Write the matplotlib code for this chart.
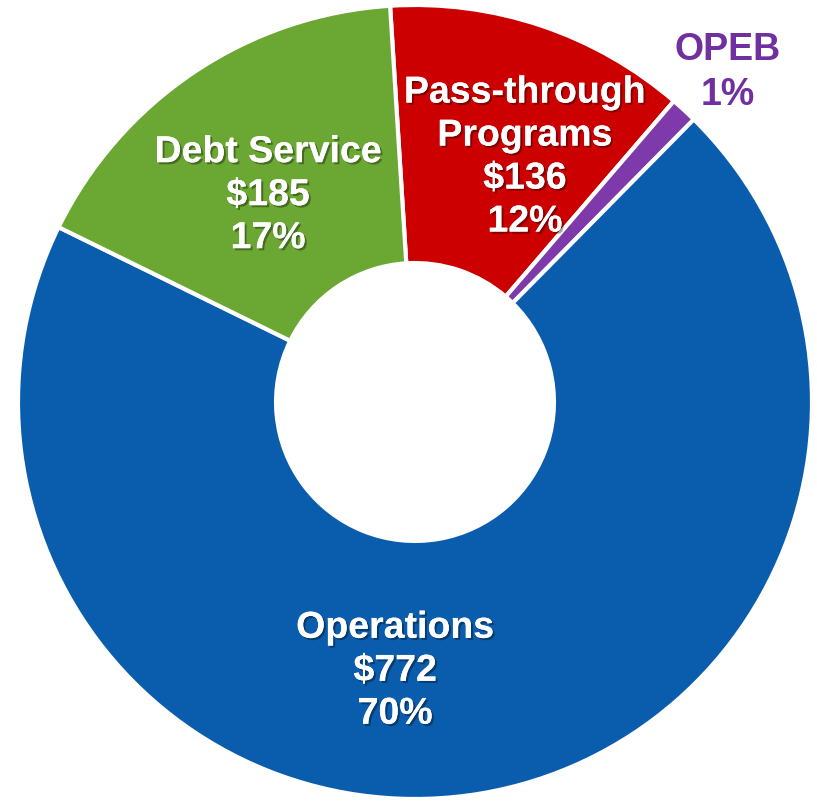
import matplotlib.pyplot as plt
import matplotlib.patheffects as pe

plt.rcParams['font.family'] = ['Liberation Sans', 'DejaVu Sans']

# slices in clockwise order starting at the top
names = ['Pass-through\nPrograms', 'OPEB', 'Operations', 'Debt Service']
values = [136, 12, 772, 185]
pcts = ['12%', '1%', '70%', '17%']
colors = ['#CC0000', '#7E3AAA', '#0A5CAD', '#6BA733']

fig = plt.figure(figsize=(8.17, 8.03), dpi=100)
ax = fig.add_axes([0, 0, 1, 1])

ax.pie(values, colors=colors, startangle=93.6, counterclock=False,
       radius=1.0, wedgeprops=dict(width=0.65, edgecolor='white', linewidth=3))

shadow = [pe.withSimplePatchShadow(offset=(1.5, -1.5), shadow_rgbFace='black', alpha=0.35),
          pe.Normal()]

# label positions in data units (pie radius = 1)
label_pos = [(0.277, 0.617), (0.788, 0.832), (-0.050, -0.677), (-0.370, 0.521)]
for i in range(len(names)):
    if names[i] == 'OPEB':
        txt = names[i] + '\n' + pcts[i]
        ax.text(label_pos[i][0], label_pos[i][1], txt, ha='center', va='center',
                fontsize=27, fontweight='bold', color='#7030A0', linespacing=1.3)
    else:
        txt = names[i] + '\n$' + str(values[i]) + '\n' + pcts[i]
        ax.text(label_pos[i][0], label_pos[i][1], txt, ha='center', va='center',
                fontsize=27, fontweight='bold', color='white', linespacing=1.25,
                path_effects=shadow)

ax.set_xlim(-415 / 397, 402 / 397)
ax.set_ylim(-400 / 397, 403 / 397)
ax.set_aspect('equal')
ax.axis('off')

plt.savefig('out.png')
